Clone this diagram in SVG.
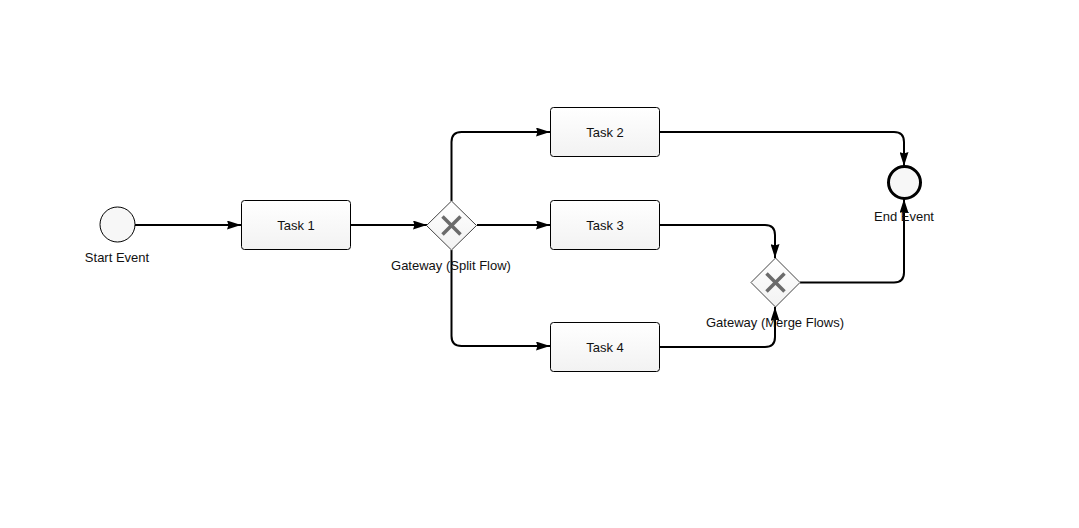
<svg xmlns="http://www.w3.org/2000/svg" width="1079" height="528" viewBox="0 0 1079 528">
  <defs>
    <linearGradient id="taskFill" x1="0" y1="0" x2="0" y2="1">
      <stop offset="0" stop-color="#ffffff"/>
      <stop offset="1" stop-color="#f2f2f2"/>
    </linearGradient>
    <marker id="arrow" viewBox="0 0 14 9" refX="14" refY="4.5" markerWidth="14" markerHeight="9" markerUnits="userSpaceOnUse" orient="auto">
      <path d="M0,0 L14,4.5 L0,9 L1.5,4.5 Z" fill="#000"/>
    </marker>
    <style>
      .task { fill: url(#taskFill); stroke: #000; stroke-width: 1; }
      .event { fill: #f7f7f7; stroke: #000; }
      .gw { fill: url(#taskFill); stroke: #444; stroke-width: 1; }
      .gwx { stroke: #6b6b6b; stroke-width: 3.5; }
      .flow { fill: none; stroke: #000; stroke-width: 2; marker-end: url(#arrow); }
      text { font-family: "Liberation Sans", Arial, sans-serif; font-size: 13px; fill: #111; text-anchor: middle; }
    </style>
  </defs>

  <rect width="1079" height="528" fill="#ffffff"/>

  <!-- sequence flows -->
  <g id="connectors">
    <path class="flow" d="M135,225 H241"/>
    <path class="flow" d="M350,225 H427"/>
    <path class="flow" d="M477,225 H550"/>
    <path class="flow" d="M451.5,201 V142 Q451.5,132 461.5,132 H550"/>
    <path class="flow" d="M451.5,250 V336 Q451.5,346 461.5,346 H550"/>
    <path class="flow" d="M660,132 H894 Q904,132 904,142 V166"/>
    <path class="flow" d="M660,225 H765 Q775,225 775,235 V258"/>
    <path class="flow" d="M660,347 H765 Q775,347 775,337 V307"/>
    <path class="flow" d="M800,282.5 H894 Q904,282.5 904,272.5 V199"/>
  </g>

  <g id="start-event">
    <circle class="event" cx="117.5" cy="224.5" r="17.5" stroke-width="1"/>
    <text x="117" y="262">Start Event</text>
  </g>

  <g id="task-1">
    <rect class="task" x="241.5" y="200.5" width="109" height="49" rx="3"/>
    <text x="296" y="230">Task 1</text>
  </g>

  <g id="gateway-split">
    <polygon class="gw" points="451.5,201 476.5,225.5 451.5,250 426.5,225.5"/>
    <path class="gwx" d="M442.5,216.5 L460.5,234.5 M460.5,216.5 L442.5,234.5"/>
    <text x="451" y="270">Gateway (Split Flow)</text>
  </g>

  <g id="task-2">
    <rect class="task" x="550.5" y="107.5" width="109" height="49" rx="3"/>
    <text x="605" y="137">Task 2</text>
  </g>

  <g id="task-3">
    <rect class="task" x="550.5" y="200.5" width="109" height="49" rx="3"/>
    <text x="605" y="230">Task 3</text>
  </g>

  <g id="task-4">
    <rect class="task" x="550.5" y="322.5" width="109" height="49" rx="3"/>
    <text x="605" y="352">Task 4</text>
  </g>

  <g id="gateway-merge">
    <polygon class="gw" points="775.5,258 800,282.5 775.5,307 751,282.5"/>
    <path class="gwx" d="M766.5,273.5 L784.5,291.5 M784.5,273.5 L766.5,291.5"/>
    <text x="775" y="327">Gateway (Merge Flows)</text>
  </g>

  <g id="end-event">
    <circle class="event" cx="904.5" cy="182.5" r="16" stroke-width="3"/>
    <text x="904" y="220.5">End Event</text>
  </g>
</svg>
